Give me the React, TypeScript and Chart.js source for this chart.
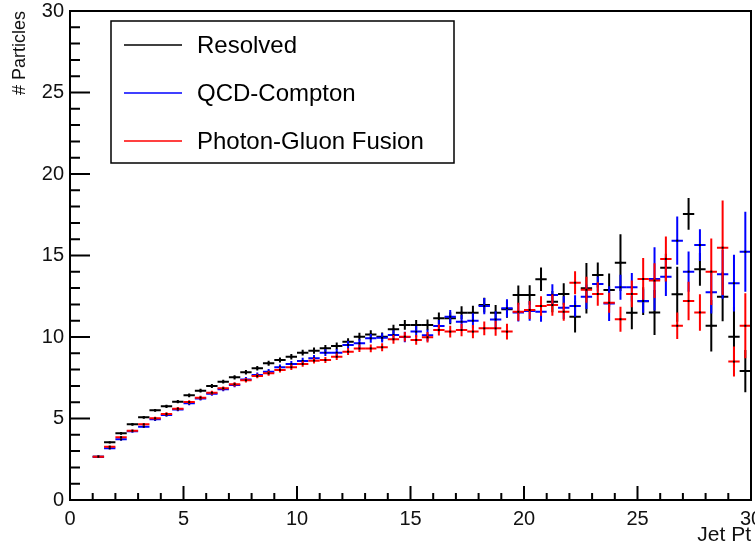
import React, { useEffect, useRef } from 'react';
import { Chart, registerables } from 'chart.js';

Chart.register(...registerables);

// Bin centres (bin width 0.5, from 1.0 to 30.0)
const binCenters = [
  1.25, 1.75, 2.25, 2.75, 3.25, 3.75, 4.25, 4.75, 5.25, 5.75,
  6.25, 6.75, 7.25, 7.75, 8.25, 8.75, 9.25, 9.75, 10.25, 10.75,
  11.25, 11.75, 12.25, 12.75, 13.25, 13.75, 14.25, 14.75, 15.25, 15.75,
  16.25, 16.75, 17.25, 17.75, 18.25, 18.75, 19.25, 19.75, 20.25, 20.75,
  21.25, 21.75, 22.25, 22.75, 23.25, 23.75, 24.25, 24.75, 25.25, 25.75,
  26.25, 26.75, 27.25, 27.75, 28.25, 28.75, 29.25, 29.75,
];
const binWidth = 0.5;

const resolved = [
  2.66, 3.54, 4.09, 4.64, 5.07, 5.50, 5.75, 6.03, 6.42, 6.71,
  6.99, 7.26, 7.53, 7.84, 8.08, 8.39, 8.59, 8.79, 9.04, 9.16,
  9.31, 9.45, 9.71, 10.02, 10.16, 10.02, 10.47, 10.74, 10.74, 10.74,
  11.15, 11.15, 11.49, 11.49, 11.96, 11.49, 11.70, 12.58, 12.58, 13.54,
  12.17, 12.64, 11.25, 12.99, 13.80, 12.88, 14.56, 11.49, 12.20, 11.51,
  14.25, 12.62, 17.55, 14.15, 10.69, 12.47, 10.02, 7.91,
];
const resolvedErr = [
  0.06, 0.07, 0.08, 0.08, 0.09, 0.09, 0.10, 0.10, 0.11, 0.11,
  0.12, 0.12, 0.13, 0.14, 0.14, 0.15, 0.16, 0.17, 0.18, 0.19,
  0.20, 0.21, 0.22, 0.24, 0.25, 0.26, 0.28, 0.30, 0.31, 0.33,
  0.35, 0.37, 0.40, 0.42, 0.45, 0.48, 0.52, 0.58, 0.60, 0.72,
  0.65, 0.66, 0.97, 1.55, 0.77, 1.02, 1.74, 1.02, 0.85, 1.38,
  0.85, 1.69, 0.97, 1.00, 1.58, 1.50, 1.84, 1.30,
];

const qcdCompton = [
  2.66, 3.17, 3.72, 4.22, 4.50, 4.95, 5.21, 5.55, 5.93, 6.22,
  6.52, 6.80, 7.05, 7.40, 7.67, 7.87, 8.14, 8.34, 8.53, 8.69,
  9.04, 9.04, 9.51, 9.61, 9.92, 9.95, 10.12, 10.00, 10.33, 10.10,
  10.67, 11.25, 10.94, 11.00, 11.90, 11.08, 11.76, 11.50, 11.60, 11.55,
  12.58, 11.80, 11.90, 12.47, 13.25, 12.05, 13.05, 13.05, 12.21, 13.56,
  13.70, 15.91, 14.01, 15.64, 12.74, 13.85, 13.30, 15.23,
];
const qcdComptonErr = [
  0.06, 0.07, 0.08, 0.09, 0.09, 0.10, 0.10, 0.11, 0.11, 0.12,
  0.12, 0.13, 0.14, 0.14, 0.15, 0.16, 0.17, 0.18, 0.19, 0.20,
  0.21, 0.22, 0.24, 0.25, 0.27, 0.28, 0.30, 0.32, 0.34, 0.36,
  0.38, 0.40, 0.43, 0.46, 0.50, 0.50, 0.55, 0.55, 0.60, 0.62,
  0.66, 0.70, 0.66, 0.75, 0.46, 1.07, 0.77, 0.87, 0.72, 1.94,
  1.18, 1.48, 1.23, 0.97, 1.30, 1.50, 1.74, 2.45,
];

const photonGluon = [
  2.66, 3.27, 3.85, 4.25, 4.64, 5.01, 5.28, 5.60, 6.01, 6.28,
  6.58, 6.85, 7.10, 7.35, 7.61, 7.77, 7.98, 8.14, 8.34, 8.55,
  8.59, 8.79, 9.10, 9.30, 9.30, 9.37, 9.86, 10.02, 9.82, 9.98,
  10.43, 10.33, 10.43, 10.33, 10.53, 10.53, 10.33, 11.55, 11.66, 11.90,
  11.96, 11.55, 13.33, 12.90, 12.64, 12.10, 11.09, 12.64, 13.56, 13.46,
  14.79, 10.69, 12.21, 11.51, 14.01, 15.48, 8.49, 10.69,
];
const photonGluonErr = [
  0.06, 0.07, 0.08, 0.08, 0.09, 0.09, 0.10, 0.10, 0.11, 0.11,
  0.12, 0.12, 0.13, 0.14, 0.14, 0.15, 0.16, 0.16, 0.17, 0.18,
  0.19, 0.20, 0.21, 0.22, 0.24, 0.25, 0.27, 0.29, 0.30, 0.32,
  0.34, 0.36, 0.38, 0.40, 0.42, 0.45, 0.48, 0.55, 0.55, 0.60,
  0.65, 0.55, 0.70, 0.80, 0.72, 0.61, 0.77, 0.82, 1.28, 1.07,
  1.38, 0.82, 1.18, 1.12, 2.04, 2.90, 0.92, 2.00,
];

const seriesLabels = ['Resolved', 'QCD-Compton', 'Photon-Gluon Fusion'];
const seriesColors = ['#000000', '#0000ff', '#ff0000'];
const xTickValues = [0, 5, 10, 15, 20, 25, 30];
const yTickValues = [0, 5, 10, 15, 20, 25, 30];

const FONT = '"Liberation Sans", Arial, Helvetica, sans-serif';

const histPlugin = {
  id: 'rootHist',
  afterDatasetsDraw(chart: any) {
    const { ctx, chartArea, scales } = chart;
    const x = scales.x;
    const y = scales.y;
    ctx.save();
    ctx.beginPath();
    ctx.rect(chartArea.left, chartArea.top, chartArea.right - chartArea.left, chartArea.bottom - chartArea.top);
    ctx.clip();
    chart.data.datasets.forEach((ds: any) => {
      const errs: number[] = ds.errors;
      ds.data.forEach((p: any, i: number) => {
        const xl = x.getPixelForValue(p.x - binWidth / 2);
        const xr = x.getPixelForValue(p.x + binWidth / 2);
        const xc = x.getPixelForValue(p.x);
        const yc = y.getPixelForValue(p.y);
        const yt = y.getPixelForValue(p.y + errs[i]);
        const yb = y.getPixelForValue(p.y - errs[i]);
        ctx.strokeStyle = ds.borderColor;
        ctx.lineWidth = 2;
        ctx.beginPath();
        ctx.moveTo(xl, yc);
        ctx.lineTo(xr, yc);
        ctx.moveTo(xc, yt);
        ctx.lineTo(xc, yb);
        ctx.stroke();
        ctx.fillStyle = '#000';
        ctx.fillRect(xc - 1, yc - 1, 2, 2);
      });
    });
    ctx.restore();
  },
  afterDraw(chart: any) {
    const { ctx, chartArea, scales } = chart;
    const x = scales.x;
    const y = scales.y;
    ctx.save();
    // frame
    ctx.strokeStyle = '#000';
    ctx.lineWidth = 2;
    ctx.strokeRect(chartArea.left, chartArea.top, chartArea.right - chartArea.left, chartArea.bottom - chartArea.top);
    // ticks (inward, ROOT style)
    ctx.beginPath();
    for (let v = 0; v <= 30; v++) {
      const major = v % 5 === 0;
      const py = y.getPixelForValue(v);
      ctx.moveTo(chartArea.left, py);
      ctx.lineTo(chartArea.left + (major ? 20 : 10), py);
      const px = x.getPixelForValue(v);
      ctx.moveTo(px, chartArea.bottom);
      ctx.lineTo(px, chartArea.bottom - (major ? 14 : 7));
    }
    ctx.stroke();

    // legend
    const lx = 111, ly = 21, lw = 343, lh = 142;
    ctx.fillStyle = '#fff';
    ctx.fillRect(lx, ly, lw, lh);
    ctx.lineWidth = 1.5;
    ctx.strokeStyle = '#000';
    ctx.strokeRect(lx, ly, lw, lh);
    ctx.font = `24px ${FONT}`;
    ctx.textBaseline = 'middle';
    ctx.textAlign = 'left';
    chart.data.datasets.forEach((ds: any, i: number) => {
      const rowY = 45 + i * 48;
      ctx.strokeStyle = ds.borderColor;
      ctx.lineWidth = 1.5;
      ctx.beginPath();
      ctx.moveTo(124, rowY);
      ctx.lineTo(182, rowY);
      ctx.stroke();
      ctx.fillStyle = '#000';
      ctx.fillText(ds.label, 197, rowY + 1);
    });
    ctx.restore();
  },
};

export default function App() {
  const canvasRef = useRef<HTMLCanvasElement | null>(null);

  useEffect(() => {
    const canvas = canvasRef.current;
    if (!canvas) return;
    const seriesValues = [resolved, qcdCompton, photonGluon];
    const seriesErrors = [resolvedErr, qcdComptonErr, photonGluonErr];
    const chart = new Chart(canvas, {
      type: 'scatter',
      data: {
        datasets: seriesValues.map((vals, k) => ({
          label: seriesLabels[k],
          data: binCenters.map((c, i) => ({ x: c, y: vals[i] })),
          errors: seriesErrors[k],
          borderColor: seriesColors[k],
          backgroundColor: seriesColors[k],
          pointRadius: 0,
          showLine: false,
        })) as any,
      },
      options: {
        animation: false,
        responsive: false,
        layout: { padding: { left: 0, top: 11, right: 4, bottom: 0 } },
        plugins: { legend: { display: false }, tooltip: { enabled: false } },
        scales: {
          x: {
            type: 'linear',
            min: 0,
            max: 30,
            afterBuildTicks: (s: any) => { s.ticks = xTickValues.map((v) => ({ value: v })); },
            afterFit: (s: any) => { s.height = 48; s.paddingLeft = 0; s.paddingRight = 0; },
            grid: { display: false, drawTicks: false },
            border: { display: false },
            ticks: { font: { family: FONT, size: 20 }, color: '#111', padding: 7, maxRotation: 0 },
            title: {
              display: true,
              text: 'Jet Pt',
              align: 'end',
              color: '#111',
              font: { family: FONT, size: 21 },
              padding: { top: 0, bottom: 0 },
            },
          },
          y: {
            type: 'linear',
            min: 0,
            max: 30,
            afterBuildTicks: (s: any) => { s.ticks = yTickValues.map((v) => ({ value: v })); },
            afterFit: (s: any) => { s.width = 70; s.paddingTop = 0; s.paddingBottom = 0; },
            grid: { display: false, drawTicks: false },
            border: { display: false },
            ticks: { font: { family: FONT, size: 20 }, color: '#111', padding: 6 },
            title: {
              display: true,
              text: '# Particles',
              align: 'end',
              color: '#111',
              font: { family: FONT, size: 18 },
              padding: { top: 9, bottom: 0 },
            },
          },
        },
      },
      plugins: [histPlugin],
    });
    return () => chart.destroy();
  }, []);

  return (
    <div style={{ position: 'fixed', left: 0, top: 0, width: 755, height: 548, background: '#fff' }}>
      <canvas ref={canvasRef} width={755} height={548} style={{ display: 'block' }} />
    </div>
  );
}
